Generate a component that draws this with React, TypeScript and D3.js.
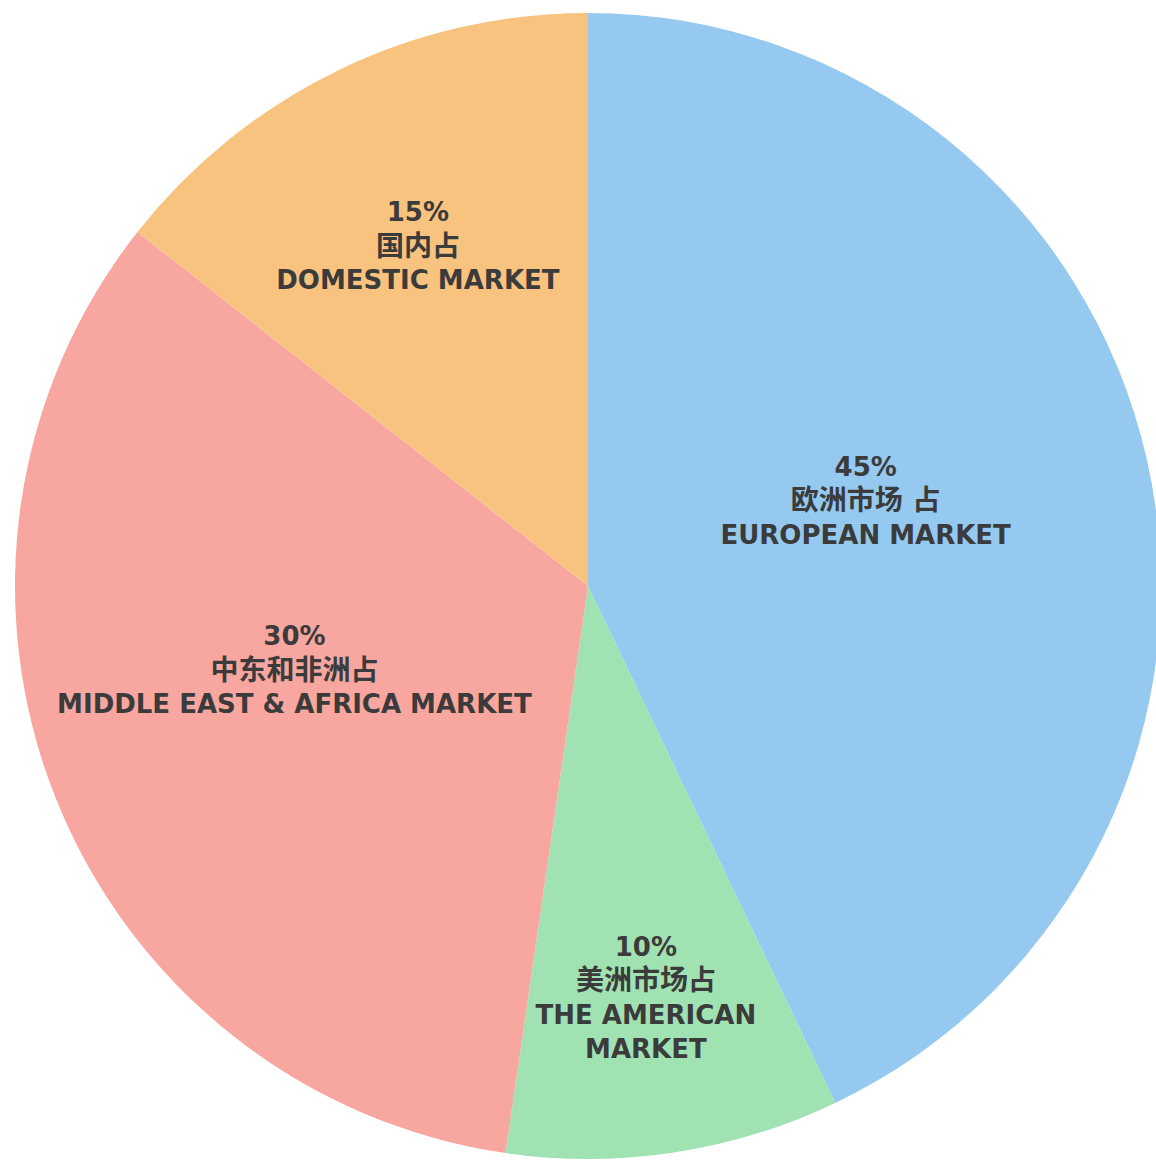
import { useEffect, useRef } from 'react';
import * as d3 from 'd3';

// share of each slice as drawn (label text carries the rounded figures)
const markets = ['european', 'american', 'middleEastAfrica', 'domestic'];
const shares = [42.9, 9.4, 33.3, 14.4];
const pctLabels = ['45%', '10%', '30%', '15%'];
const cnLabels = ['欧洲市场 占', '美洲市场占', '中东和非洲占', '国内占'];
const enLabels = [
  ['EUROPEAN MARKET'],
  ['THE AMERICAN', 'MARKET'],
  ['MIDDLE EAST & AFRICA MARKET'],
  ['DOMESTIC MARKET'],
];
const colors = ['#95c9f0', '#a1e2b3', '#f8a6a0', '#f7c37e'];

// where each label block sits: [angle in degrees from 12 o'clock, fraction of radius]
const labelPolar: [number, number][] = [
  [72.9, 0.507],
  [172, 0.726],
  [254, 0.533],
  [333.4, 0.663],
];

const W = 1156;
const H = 1163;

export default function App() {
  const svgRef = useRef<SVGSVGElement>(null);

  useEffect(() => {
    if (!svgRef.current) return;
    const svg = d3.select(svgRef.current);
    svg.selectAll('*').remove();

    const cx = 588;
    const cy = 586;
    const radius = 573;

    const pie = d3.pie<number>().sort(null).value(d => d);
    const arcs = pie(shares);
    const arc = d3.arc<d3.PieArcDatum<number>>().innerRadius(0).outerRadius(radius);

    const g = svg.append('g').attr('transform', `translate(${cx},${cy})`);

    g.selectAll('path')
      .data(arcs)
      .join('path')
      .attr('d', arc)
      .attr('fill', (_, i) => colors[i])
      .attr('stroke', 'none');

    const lineH = 34;
    arcs.forEach((_, i) => {
      const [angDeg, frac] = labelPolar[i];
      const a = (angDeg * Math.PI) / 180;
      const x = Math.sin(a) * radius * frac;
      const y = -Math.cos(a) * radius * frac;
      const lines = [pctLabels[i], cnLabels[i], ...enLabels[i]];
      const top = y - ((lines.length - 1) * lineH) / 2;
      const t = g.append('text')
        .attr('class', markets[i])
        .attr('text-anchor', 'middle')
        .attr('font-family', '"DejaVu Sans", "Noto Sans CJK SC", sans-serif')
        .attr('font-weight', 'bold')
        .attr('fill', '#3b3b3b');
      lines.forEach((ln, j) => {
        t.append('tspan')
          .attr('x', x)
          .attr('y', top + j * lineH)
          .attr('dominant-baseline', 'central')
          .attr('font-size', j === 1 ? 28 : 26)
          .text(ln);
      });
    });
  }, []);

  return (
    <div style={{ position: 'absolute', left: 0, top: 0, width: W, height: H, background: '#fff' }}>
      <svg ref={svgRef} width={W} height={H} style={{ display: 'block' }}></svg>
    </div>
  );
}
